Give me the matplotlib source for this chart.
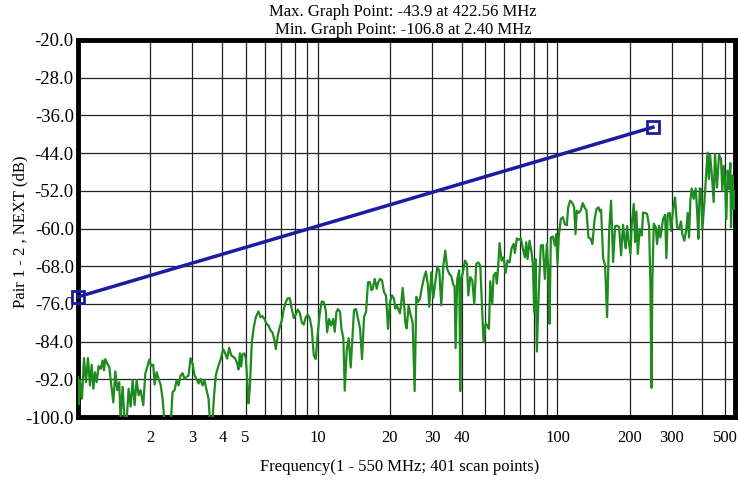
import numpy as np
import matplotlib.pyplot as plt
from matplotlib.ticker import LogLocator, NullFormatter

plt.rcParams['font.family'] = ['Liberation Serif', 'DejaVu Serif']

# Limit line (end points)
limit_freq = [1.0, 250.0]
limit_db = [-74.5, -38.5]

next_freq = [
    1.00, 1.008, 1.019, 1.039, 1.059, 1.080, 1.100, 1.122, 1.140, 1.159, 1.177, 1.196,
    1.219, 1.243, 1.267, 1.283, 1.300, 1.325, 1.351, 1.377, 1.404, 1.431, 1.458, 1.486,
    1.505, 1.535, 1.565, 1.595, 1.626, 1.658, 1.690, 1.722, 1.756, 1.790, 1.824, 1.872,
    1.908, 1.945, 1.983, 2.021, 2.060, 2.087, 2.127, 2.168, 2.210, 2.253, 2.297, 2.341,
    2.40, 2.433, 2.480, 2.528, 2.577, 2.627, 2.678, 2.730, 2.783, 2.836, 2.892, 2.947,
    3.005, 3.063, 3.122, 3.183, 3.244, 3.307, 3.371, 3.437, 3.503,
    3.548, 3.640, 3.687, 3.758, 3.843, 3.930, 4.032, 4.110, 4.190, 4.271, 4.354, 4.438,
    4.524, 4.612, 4.671, 4.732, 4.793, 4.855, 4.949, 5.012, 5.076, 5.141, 5.208, 5.309,
    5.412, 5.517, 5.659, 5.769, 5.881, 5.995, 6.111, 6.230, 6.350, 6.474, 6.599, 6.683,
    6.813, 6.945, 7.079, 7.217, 7.356, 7.499, 7.645, 7.793, 7.943, 8.098, 8.254, 8.414,
    8.577, 8.743, 8.913, 9.085, 9.261, 9.441, 9.624, 9.810, 10.00, 10.19, 10.39, 10.59,
    10.80, 10.94, 11.15, 11.36, 11.59,
    11.77, 11.96, 12.15, 12.39, 12.55, 12.79, 12.96, 13.21, 13.46, 13.72, 13.99, 14.17,
    14.44, 14.72, 15.01, 15.30, 15.60, 15.90, 16.21, 16.52, 16.73, 16.95, 17.28, 17.62,
    17.84, 18.19, 18.54, 18.90, 19.27, 19.64, 20.02, 20.41, 20.80, 21.07, 21.34, 21.76,
    22.03, 22.32, 22.60, 22.89, 23.19, 23.49, 23.94, 24.41, 24.88, 25.36, 25.77, 26.18,
    26.69, 27.21, 27.73, 28.27, 28.82, 29.19, 29.76, 30.33, 30.92, 31.52, 32.13, 32.75,
    33.39, 34.03, 34.69, 35.37, 36.06, 36.75, 37.22, 37.58, 38.18, 38.92, 39.3,
    39.69, 40.33, 41.11, 41.91, 42.45, 43.27, 44.11, 44.97, 45.84, 46.72, 47.63, 48.24,
    49.17, 50.12, 51.09, 51.76, 52.42, 53.44, 54.12, 55.17, 55.87, 56.59, 57.32, 58.43,
    59.57, 60.72, 61.90, 63.10, 64.32, 65.57, 66.41, 67.70, 69.01, 70.35, 71.72, 73.11,
    74.05, 74.99, 76.44, 77.93, 78.93, 79.95, 80.98, 82.02, 83.60, 85.23, 86.88, 88.57,
    90.29, 91.45, 92.62, 93.81, 95.63, 97.48, 98.73, 100.0, 101.3, 103.2, 105.3, 107.3,
    109.4, 110.8, 112.9, 115.1, 117.3, 118.9, 120.4, 122.7, 125.1, 127.5,
    129.6, 132.1, 134.6, 137.2, 139.9, 142.6, 145.4, 148.2, 150.1, 152.0, 155.0, 157.9,
    161.0, 164.2, 167.3, 170.6, 173.9, 177.3, 180.7, 184.2, 187.7, 190.2, 192.6, 195.1,
    197.6, 201.5, 204.0, 208.0, 210.7, 213.4, 216.2, 220.4, 224.6, 227.5, 231.9, 236.4,
    241.0, 244.1, 246.5, 248.8, 252.0, 256.9, 260.2, 265.2, 268.7, 272.1, 275.6, 280.9,
    284.6, 288.3, 293.9, 297.6, 303.4, 309.3, 315.2, 321.3, 327.5, 331.7, 338.2, 344.7,
    349.2, 353.7, 358.3, 362.9, 369.9, 377.1, 381.9, 386.9, 391.9, 396.9, 402.1, 409.9,
    422.56, 428.0, 433.0, 439.6, 448.1, 453.9, 462.7, 471.6, 480.8, 487.0, 493.3, 499.7,
    506.1, 512.6, 519.3, 525.9, 529.3, 536.1, 543.0, 550.0,
]
next_db = [
    -91.5, -97.3, -92.2, -96.1, -87.5, -92.6, -87.5, -93.3, -88.9, -94.0, -90.5, -92.6,
    -89.2, -89.8, -88.0, -90.1, -87.7, -88.7, -89.4, -93.3, -96.9, -90.3, -94.3, -92.6,
    -100.5, -93.6, -101.0, -100.8, -94.0, -97.8, -92.2, -97.5, -92.2, -95.4, -94.3, -97.5,
    -90.8, -89.4, -87.8, -89.2, -88.9, -93.1, -90.5, -91.9, -93.1, -96.1, -101.5, -104.0,
    -106.8, -102.0, -94.7, -94.3, -92.2, -93.3, -91.2, -90.7, -91.9, -91.5, -91.2, -87.5,
    -88.7, -91.2, -91.9, -92.9, -91.9, -93.3, -92.2, -94.3, -96.1,
    -100.5, -100.8, -96.0, -91.1, -89.3, -87.9, -85.6, -86.5, -87.6, -85.3, -86.9, -87.2,
    -87.6, -88.6, -89.9, -86.5, -89.3, -86.7, -86.5, -87.6, -91.8, -97.1, -93.9, -84.1,
    -80.9, -78.8, -77.6, -78.8, -78.6, -79.2, -80.2, -80.6, -81.6, -82.1, -83.7, -85.6,
    -82.7, -80.9, -79.5, -77.1, -75.6, -74.8, -74.8, -77.1, -79.0, -78.3, -77.2, -77.9,
    -79.9, -80.4, -78.8, -78.3, -79.0, -81.3, -86.9, -87.7, -82.3, -78.1, -75.5, -75.6,
    -77.4, -82.0, -79.2, -80.6, -79.2,
    -81.9, -77.7, -77.1, -77.7, -81.2, -83.3, -94.4, -85.8, -83.3, -89.5, -81.9, -77.3,
    -77.1, -79.1, -81.2, -87.7, -78.7, -77.7, -71.4, -71.4, -73.1, -72.8, -70.7, -72.8,
    -71.5, -70.7, -71.0, -73.5, -74.3, -81.3, -75.6, -74.2, -74.9, -77.0, -76.3, -77.3,
    -78.0, -75.6, -72.6, -75.6, -80.1, -81.2, -76.4, -78.4, -79.9, -94.5, -74.5, -75.6,
    -74.9, -72.4, -70.5, -69.1, -72.1, -76.6, -69.3, -74.7, -71.4, -68.2, -68.9, -76.3,
    -67.9, -64.7, -68.6, -69.6, -70.1, -71.9, -72.2, -85.4, -70.7, -68.9, -94.5,
    -70.7, -69.3, -66.8, -67.5, -74.2, -70.3, -71.0, -76.0, -67.5, -67.2, -67.9, -74.2,
    -84.1, -80.2, -80.6, -81.3, -71.2, -76.0, -70.0, -69.4, -71.7, -67.9, -63.1, -66.8,
    -66.1, -69.4, -66.8, -67.2, -64.2, -63.3, -65.2, -62.1, -62.4, -62.1, -64.3, -66.1,
    -62.9, -66.5, -62.6, -65.0, -67.5, -77.7, -66.5, -86.1, -72.8, -63.6, -63.5, -70.7,
    -63.3, -68.6, -80.2, -61.9, -61.7, -63.6, -61.2, -67.5, -61.5, -58.0, -57.6, -59.1,
    -59.3, -55.5, -54.1, -54.5, -55.5, -61.2, -56.2, -56.7, -56.1, -54.6,
    -55.5, -56.2, -61.9, -62.1, -63.3, -58.3, -55.9, -55.5, -56.4, -56.0, -66.3, -67.8,
    -78.8, -60.5, -54.1, -67.1, -59.5, -59.4, -59.7, -65.7, -59.2, -62.2, -64.2, -59.5,
    -62.2, -65.4, -59.2, -54.8, -62.9, -56.4, -65.4, -60.1, -61.5, -56.6, -56.7, -56.9,
    -59.5, -72.1, -93.8, -70.7, -59.0, -59.7, -63.3, -59.4, -61.9, -60.1, -58.0, -57.1,
    -66.3, -56.9, -56.7, -60.5, -55.9, -53.4, -59.7, -60.0, -58.5, -61.2, -62.6, -60.1,
    -56.7, -61.9, -54.1, -51.5, -53.7, -51.5, -55.9, -62.2, -51.5, -51.6, -60.1, -54.4,
    -43.9, -49.5, -44.4, -48.1, -54.4, -44.2, -51.3, -44.4, -45.3, -52.0, -46.7, -50.2,
    -58.0, -47.7, -51.6, -46.1, -59.7, -48.8, -55.9, -52.0,
]

x_tick_vals = [2, 3, 4, 5, 10, 20, 30, 40, 100, 200, 300, 500]
y_tick_vals = [-100, -92, -84, -76, -68, -60, -52, -44, -36, -28, -20]

fig = plt.figure(figsize=(7.38, 4.82), dpi=100)
ax = fig.add_axes([78 / 738, 1 - 417 / 482, 657 / 738, 377 / 482])

ax.plot(next_freq, next_db, color='#1f8a1f', lw=1.6, zorder=3)
ax.plot(limit_freq, limit_db, color='#1c1ca0', lw=2.5, marker='s', ms=9,
        mfc='none', mec='#1c1ca0', mew=2, zorder=4, clip_on=False)

ax.set_xscale('log')
ax.set_xlim(1, 550)
ax.set_ylim(-100, -20)
ax.set_xticks(x_tick_vals)
ax.set_xticklabels([str(v) for v in x_tick_vals])
ax.xaxis.set_minor_locator(LogLocator(base=10, subs=np.arange(1, 10)))
ax.xaxis.set_minor_formatter(NullFormatter())
ax.set_yticks(y_tick_vals)
ax.set_yticklabels([f'{v:.1f}' for v in y_tick_vals])

ax.grid(True, which='both', axis='x', color='#222222', lw=0.9)
ax.grid(True, which='major', axis='y', color='#222222', lw=0.9)
ax.tick_params(which='both', length=0)
ax.tick_params(axis='x', labelsize=12, pad=9)
ax.tick_params(axis='y', labelsize=13.5, pad=3)
for s in ax.spines.values():
    s.set_linewidth(3.5)
    s.set_color('black')

fig.text(403 / 738, 1 - 12 / 482, 'Max. Graph Point: -43.9 at 422.56 MHz',
         ha='center', va='center', fontsize=12)
fig.text(403 / 738, 1 - 30 / 482, 'Min. Graph Point: -106.8 at 2.40 MHz',
         ha='center', va='center', fontsize=12)
fig.text(400 / 738, 1 - 467 / 482, 'Frequency(1 - 550 MHz; 401 scan points)',
         ha='center', va='center', fontsize=12)
fig.text(20 / 738, 1 - 232 / 482, 'Pair 1 - 2 , NEXT (dB)',
         ha='center', va='center', rotation=90, fontsize=12)

fig.savefig('out.png', dpi=100)
